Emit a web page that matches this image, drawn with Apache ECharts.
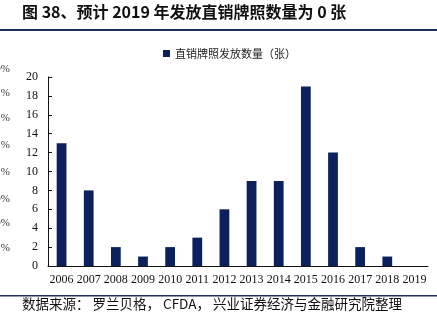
<!DOCTYPE html>
<html><head><meta charset="utf-8">
<script src="https://cdn.jsdelivr.net/npm/echarts@6/dist/echarts.min.js"></script>
<style>html,body{margin:0;padding:0;background:#fff}#c{width:437px;height:323px}</style>
</head><body><div id="c"></div>
<script>
var categories = ['2006','2007','2008','2009','2010','2011','2012','2013','2014','2015','2016','2017','2018','2019'];
var licenses = [13, 8, 2, 1, 2, 3, 6, 9, 9, 19, 12, 2, 1, 0];
var seriesName = '直销牌照发放数量（张）';
var titleText = '图 38、预计 2019 年发放直销牌照数量为 0 张';
var sourceText = '数据来源： 罗兰贝格， CFDA， 兴业证券经济与金融研究院整理';
var cutLabels = ['0%', '%', '%', '%', '%', '0%', '0%', '%'];

var chart = echarts.init(document.getElementById('c'));
var serif = '"Liberation Serif", "Noto Sans CJK SC", serif';
var cutY = [69, 93, 118, 145, 172, 199, 223, 248];
var graphics = [
  {type:'text', left:22, top:4, style:{text:titleText, font:'bold 16px "Noto Sans CJK SC"', fill:'#111'}},
  {type:'rect', shape:{x:0, y:29, width:437, height:2}, style:{fill:'#1f2d5c'}},
  {type:'rect', shape:{x:0, y:295, width:437, height:1.5}, style:{fill:'#1f2d5c'}},
  {type:'text', left:22, top:297, style:{text:sourceText, font:'13.5px "Noto Sans CJK SC"', fill:'#111'}}
];
cutLabels.forEach(function(t, i){
  graphics.push({type:'text', x:10, y:cutY[i], style:{text:t, font:'11px ' + serif, fill:'#333', align:'right', verticalAlign:'middle'}});
});

chart.setOption({
  animation:false,
  graphic: graphics,
  legend:{
    data:[seriesName], top:43, left:158, itemWidth:7, itemHeight:7, itemGap:4,
    icon:'rect', textStyle:{fontFamily:'"Noto Sans CJK SC"', fontSize:11, color:'#222'}
  },
  grid:{left:48, right:9, top:77, bottom:57, containLabel:false},
  xAxis:{
    type:'category', data:categories,
    axisLine:{lineStyle:{color:'#111', width:1}},
    axisTick:{inside:true, length:4, alignWithLabel:false, lineStyle:{color:'#111'}},
    axisLabel:{fontFamily:serif, fontSize:12, color:'#111', margin:8, interval:0}
  },
  yAxis:{
    type:'value', min:0, max:20, interval:2,
    axisLine:{show:true, lineStyle:{color:'#111', width:1}},
    axisTick:{show:true, inside:true, length:4, lineStyle:{color:'#111'}},
    axisLabel:{fontFamily:serif, fontSize:12, color:'#111', margin:10},
    splitLine:{show:false}
  },
  series:[{
    name:seriesName, type:'bar', data:licenses, barWidth:'36%',
    itemStyle:{color:'#0a215e'}
  }]
});
</script></body></html>
